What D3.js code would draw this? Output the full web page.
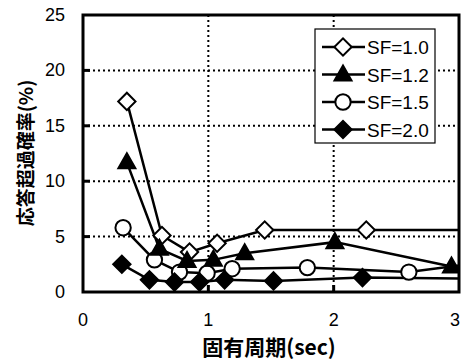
<!DOCTYPE html>
<html>
<head>
<meta charset="utf-8">
<script src="https://cdn.jsdelivr.net/npm/d3@7"></script>
<style>
  body { margin: 0; background: #fff; }
  text { font-family: "Liberation Sans", Arial, sans-serif; fill: #000; }
  .cjk { font-family: "Noto Sans CJK JP", sans-serif; font-weight: bold; }
</style>
</head>
<body>
<div id="chart"></div>
<script>
// data
var seriesNames = ["SF=1.0", "SF=1.2", "SF=1.5", "SF=2.0"];
var sf10 = [[0.35, 17.2], [0.63, 5.1], [0.85, 3.6], [1.07, 4.4], [1.45, 5.6], [2.26, 5.6], [3.2, 5.6]];
var sf12 = [[0.35, 11.7], [0.61, 3.9], [0.83, 2.8], [1.04, 2.9], [1.29, 3.5], [2.01, 4.5], [2.94, 2.3]];
var sf15 = [[0.32, 5.8], [0.57, 2.9], [0.77, 1.8], [0.99, 1.7], [1.19, 2.1], [1.79, 2.2], [2.6, 1.8], [3.2, 2.7]];
var sf20 = [[0.31, 2.5], [0.53, 1.1], [0.73, 0.9], [0.93, 0.9], [1.13, 1.1], [1.52, 1.0], [2.23, 1.3], [3.2, 1.2]];
var xTicks = [0, 1, 2, 3];
var yTicks = [0, 5, 10, 15, 20, 25];

var width = 461, height = 360;
var margin = { top: 15, right: 2, bottom: 68, left: 83 };
var w = width - margin.left - margin.right,
    h = height - margin.top - margin.bottom;

var svg = d3.select("#chart").append("svg")
    .attr("width", width)
    .attr("height", height);

var g = svg.append("g")
    .attr("transform", "translate(" + margin.left + "," + margin.top + ")");

var x = d3.scaleLinear().domain([0, 3]).range([0, w]);
var y = d3.scaleLinear().domain([0, 25]).range([h, 0]);

g.append("clipPath").attr("id", "plot")
  .append("rect").attr("width", w).attr("height", h);

// dotted grid
g.selectAll(".gx")
    .data([1, 2])
    .enter().append("line")
    .attr("x1", function (d) { return x(d); })
    .attr("x2", function (d) { return x(d); })
    .attr("y1", 0).attr("y2", h)
    .attr("stroke", "#000").attr("stroke-width", 2)
    .attr("stroke-dasharray", "2,3");
g.selectAll(".gy")
    .data([5, 10, 15, 20])
    .enter().append("line")
    .attr("x1", 0).attr("x2", w)
    .attr("y1", function (d) { return y(d); })
    .attr("y2", function (d) { return y(d); })
    .attr("stroke", "#000").attr("stroke-width", 2)
    .attr("stroke-dasharray", "2,3");

// inward ticks
g.selectAll(".ty")
    .data([5, 10, 15, 20])
    .enter().append("line")
    .attr("x1", 0).attr("x2", 7)
    .attr("y1", function (d) { return y(d); })
    .attr("y2", function (d) { return y(d); })
    .attr("stroke", "#000").attr("stroke-width", 3);
g.selectAll(".tx")
    .data([1, 2])
    .enter().append("line")
    .attr("x1", function (d) { return x(d); })
    .attr("x2", function (d) { return x(d); })
    .attr("y1", h).attr("y2", h - 7)
    .attr("stroke", "#000").attr("stroke-width", 3);

// tick labels
g.selectAll(".ly")
    .data(yTicks)
    .enter().append("text")
    .attr("x", -18)
    .attr("y", function (d) { return y(d) + 6; })
    .attr("text-anchor", "end")
    .style("font-size", "18px")
    .text(function (d) { return d; });
g.selectAll(".lx")
    .data(xTicks)
    .enter().append("text")
    .attr("x", function (d) { return Math.min(x(d), w - 4); }) // keep the last one inside the window
    .attr("y", h + 34)
    .attr("text-anchor", "middle")
    .style("font-size", "18px")
    .text(function (d) { return d; });

// series
var line = d3.line()
    .x(function (d) { return x(d[0]); })
    .y(function (d) { return y(d[1]); });

var diamond = d3.symbol().type(d3.symbolSquare).size(150);
var circle = d3.symbol().type(d3.symbolCircle).size(185);
var triangle = "M0,-9L8.5,6L-8.5,6Z";

var series = [
    { data: sf15, shape: "circle", fill: "#fff" },
    { data: sf20, shape: "diamond", fill: "#000" },
    { data: sf10, shape: "diamond", fill: "#fff" },
    { data: sf12, shape: "triangle", fill: "#000" }
];
var legendOrder = [2, 3, 0, 1];

function markerPath(s) {
    if (s.shape == "circle") return circle();
    if (s.shape == "diamond") return diamond();
    return triangle;
}
function markerTransform(s, px, py) {
    return "translate(" + px + "," + py + ")" + (s.shape == "diamond" ? "rotate(45)" : "");
}

var plot = g.append("g").attr("clip-path", "url(#plot)");
series.forEach(function (s) {
    plot.append("path")
        .attr("d", line(s.data))
        .attr("fill", "none")
        .attr("stroke", "#000")
        .attr("stroke-width", 2.5);
});
series.forEach(function (s) {
    plot.selectAll(null)
        .data(s.data.filter(function (d) { return d[0] <= 3; }))
        .enter().append("path")
        .attr("d", markerPath(s))
        .attr("transform", function (d) { return markerTransform(s, x(d[0]), y(d[1])); })
        .attr("fill", s.fill)
        .attr("stroke", "#000")
        .attr("stroke-width", 2);
});

// frame
g.append("rect")
    .attr("width", w).attr("height", h)
    .attr("fill", "none")
    .attr("stroke", "#000").attr("stroke-width", 3);

// legend
var lg = g.append("g").attr("transform", "translate(232,14)");
lg.append("rect")
    .attr("width", 120).attr("height", 114)
    .attr("fill", "#fff")
    .attr("stroke", "#000").attr("stroke-width", 1.2);
legendOrder.forEach(function (si, i) {
    var s = series[si];
    var cy = 18 + i * 27.5;
    lg.append("line")
        .attr("x1", 7).attr("x2", 50)
        .attr("y1", cy).attr("y2", cy)
        .attr("stroke", "#000").attr("stroke-width", 2.5);
    lg.append("path")
        .attr("d", markerPath(s))
        .attr("transform", markerTransform(s, 28, cy))
        .attr("fill", s.fill)
        .attr("stroke", "#000")
        .attr("stroke-width", 2);
    lg.append("text")
        .attr("x", 52)
        .attr("y", cy + 7)
        .style("font-size", "19px")
        .text(seriesNames[i]);
});

// axis titles
svg.append("text")
    .attr("class", "cjk")
    .attr("x", 269)
    .attr("y", 355)
    .attr("text-anchor", "middle")
    .style("font-size", "21px")
    .text("固有周期(sec)");
svg.append("text")
    .attr("class", "cjk")
    .attr("transform", "translate(33,153) rotate(-90)")
    .attr("text-anchor", "middle")
    .style("font-size", "19px")
    .text("応答超過確率(%)");
</script>
</body>
</html>
